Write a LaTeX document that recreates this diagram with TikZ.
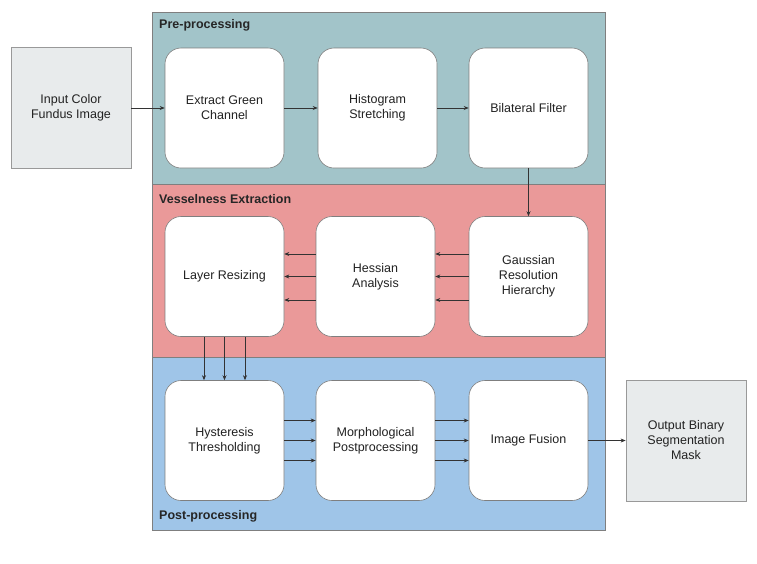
\documentclass[tikz,border=0pt]{standalone}
\usepackage{fontspec}
\setmainfont{Liberation Sans}
\usetikzlibrary{arrows.meta}
\definecolor{prec}{HTML}{A2C4C9}
\definecolor{vesc}{HTML}{EA9999}
\definecolor{postc}{HTML}{9FC5E8}
\definecolor{ioc}{HTML}{E8EBEC}
\definecolor{edgec}{HTML}{7F7F7F}
\definecolor{arrc}{HTML}{333333}
\definecolor{txtc}{HTML}{222222}
\tikzset{
  band/.style={draw=edgec, line width=0.9pt},
  procbox/.style={draw=edgec, fill=white, rounded corners=16pt, line width=0.6pt,
    minimum width=119pt, minimum height=120pt, align=center, text=txtc,
    font=\fontsize{12.5}{15}\selectfont, inner sep=0pt},
  iobox/.style={draw=edgec!80, fill=ioc, line width=0.8pt,
    minimum width=120pt, minimum height=121pt, align=center, text=txtc,
    font=\fontsize{12.5}{15}\selectfont, inner sep=0pt},
  bandlabel/.style={anchor=west, font=\fontsize{12.5}{15}\selectfont\bfseries, inner sep=0pt, text=black!85},
  flow/.style={draw=arrc, line width=0.6pt, -{Stealth[length=5pt,width=4pt]}}
}
\begin{document}
\begin{tikzpicture}[x=1pt,y=-1pt]
\useasboundingbox (0,0) rectangle (757,563);
% bands
\path[band, fill=prec] (152,12) rectangle (605,184);
\path[band, fill=vesc] (152,184) rectangle (605,357);
\path[band, fill=postc] (152,357) rectangle (605,530);
\node[bandlabel] (lpre) at (159,25.5) {Pre-processing};
\node[bandlabel] (lves) at (159,199.5) {Vesselness Extraction};
\node[bandlabel] (lpost) at (159,516.5) {Post-processing};
% io boxes
\node[iobox] (inp) at (71,108) {\raisebox{-1.5pt}{\shortstack{Input Color\\Fundus Image}}};
\node[iobox] (out) at (686,440.5) {Output Binary\\Segmentation\\Mask};
% pre
\node[procbox] (ext) at (224.5,108) {Extract Green\\Channel};
\node[procbox] (his) at (377.5,108) {Histogram\\Stretching};
\node[procbox] (bil) at (528.5,108) {Bilateral Filter};
% vesselness
\node[procbox] (lay) at (224.5,276.5) {Layer Resizing};
\node[procbox] (hes) at (375.5,276.5) {Hessian\\Analysis};
\node[procbox] (gau) at (528.5,276.5) {Gaussian\\Resolution\\Hierarchy};
% post
\node[procbox] (hys) at (224.5,440.5) {Hysteresis\\Thresholding};
\node[procbox] (mor) at (375.5,440.5) {Morphological\\Postprocessing};
\node[procbox] (fus) at (528.5,440.5) {Image Fusion};
% arrows
\draw[flow] (inp.east) -- (ext.west);
\draw[flow] (ext.east) -- (his.west);
\draw[flow] (his.east) -- (bil.west);
\draw[flow] (bil.south) -- (gau.north);
\foreach \dy in {-23.5,0,22.5} {
  \draw[flow] ([yshift=\dy]gau.west) -- ([yshift=\dy]hes.east);
  \draw[flow] ([yshift=\dy]hes.west) -- ([yshift=\dy]lay.east);
}
\foreach \dx in {-20.5,0,20.5} {
  \draw[flow] ([xshift=\dx]lay.south) -- ([xshift=\dx]hys.north);
}
\foreach \dy in {-20,0,20} {
  \draw[flow] ([yshift=\dy]hys.east) -- ([yshift=\dy]mor.west);
  \draw[flow] ([yshift=\dy]mor.east) -- ([yshift=\dy]fus.west);
}
\draw[flow] (fus.east) -- (out.west);
\end{tikzpicture}
\end{document}
